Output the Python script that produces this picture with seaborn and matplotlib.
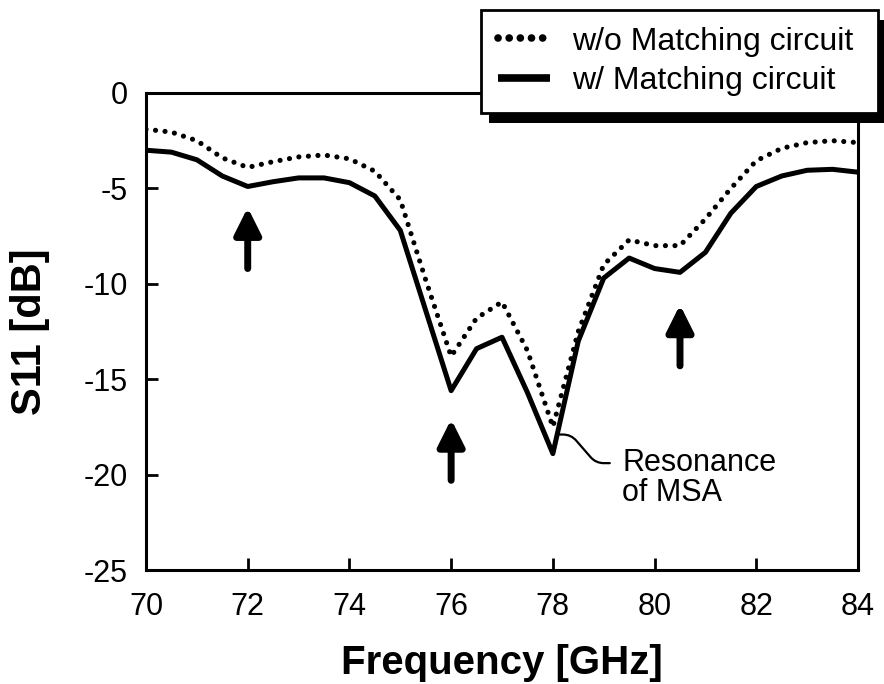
import matplotlib
matplotlib.use('Agg')
import matplotlib.pyplot as plt
import matplotlib.patches as mpatches
import seaborn as sns
import pandas as pd

# S11 readings every 0.5 GHz
freq = [70.0, 70.5, 71.0, 71.5, 72.0, 72.5, 73.0, 73.5, 74.0, 74.5,
        75.0, 75.5, 76.0, 76.5, 77.0, 77.5, 78.0, 78.5, 79.0, 79.5,
        80.0, 80.5, 81.0, 81.5, 82.0, 82.5, 83.0, 83.5, 84.0]
s11_without = [-1.9, -2.05, -2.5, -3.4, -3.9, -3.6, -3.35, -3.25, -3.45, -4.1,
               -5.6, -9.8, -13.8, -11.8, -10.95, -13.5, -17.5, -12.5, -9.0, -7.7,
               -8.0, -8.0, -6.6, -5.0, -3.55, -2.9, -2.6, -2.5, -2.6]
s11_with = [-3.0, -3.1, -3.5, -4.35, -4.9, -4.65, -4.45, -4.45, -4.7, -5.4,
            -7.2, -11.4, -15.6, -13.4, -12.8, -15.7, -18.9, -13.0, -9.7, -8.65,
            -9.2, -9.4, -8.35, -6.3, -4.9, -4.35, -4.05, -4.0, -4.15]
labels = ['w/o Matching circuit', 'w/ Matching circuit']

# arrows marking the matching dips
arrow_x = [72.0, 76.0, 80.5]
arrow_tip = [-6.0, -17.1, -11.1]
arrow_tail = [-9.2, -20.3, -14.3]

xticks = [70, 72, 74, 76, 78, 80, 82, 84]
yticks = [0, -5, -10, -15, -20, -25]

sns.set_style('ticks')
plt.rcParams['font.family'] = ['Liberation Sans', 'DejaVu Sans']
plt.rcParams['axes.unicode_minus'] = False
plt.rcParams['text.color'] = 'black'
plt.rcParams['axes.labelcolor'] = 'black'
plt.rcParams['xtick.color'] = 'black'
plt.rcParams['ytick.color'] = 'black'

df = pd.DataFrame({'freq': freq, 'without': s11_without, 'with': s11_with})

fig, ax = plt.subplots(figsize=(8.84, 6.84), dpi=100)
fig.subplots_adjust(left=146/884, right=858/884, top=1-93/684, bottom=1-570/684)

sns.lineplot(data=df, x='freq', y='without', ax=ax, color='black', lw=3.7,
             linestyle=(0, (0.01, 1.85)), dash_capstyle='round', label=labels[0])
sns.lineplot(data=df, x='freq', y='with', ax=ax, color='black', lw=3.6,
             solid_capstyle='butt', label=labels[1])

ax.set_xlim(70, 84)
ax.set_ylim(-25, 0)
ax.set_xticks(xticks)
ax.set_yticks(yticks)
ax.tick_params(direction='in', length=8.5, width=2, labelsize=22, color='black')
ax.tick_params(axis='x', pad=16)
ax.tick_params(axis='y', pad=13)
for sp in ax.spines.values():
    sp.set_linewidth(2.2)
    sp.set_color('black')
ax.set_xlabel('Frequency [GHz]', fontsize=29, fontweight='bold', labelpad=16)
ax.set_ylabel('S11 [dB]', fontsize=30, fontweight='bold', labelpad=24)

for x, tip, tail in zip(arrow_x, arrow_tip, arrow_tail):
    ax.annotate('', xy=(x, tip), xytext=(x, tail),
                arrowprops=dict(arrowstyle='-|>,head_length=1.6,head_width=0.8',
                                lw=5, color='black', capstyle='round',
                                shrinkA=0, shrinkB=0, mutation_scale=10))

ax.annotate('', xy=(78.12, -17.9), xytext=(79.12, -19.4),
            arrowprops=dict(arrowstyle='-', lw=1.6, color='black',
                            connectionstyle='arc,angleA=180,angleB=0,armA=14,armB=12,rad=8',
                            shrinkA=0, shrinkB=0))
ax.text(79.36, -20.2, 'Resonance\nof MSA', fontsize=22, ha='left', va='center',
        linespacing=1.0)

handles, labs = ax.get_legend_handles_labels()
ax.get_legend().remove()
leg = fig.legend(handles, labs, loc='upper left',
                 bbox_to_anchor=(481/884, 1-108/684, 397/884, 98/684), mode='expand',
                 borderaxespad=0, fontsize=23, frameon=True, fancybox=False,
                 framealpha=1, edgecolor='black', handlelength=1.65,
                 handletextpad=0.68, borderpad=0.52, labelspacing=0.3)
leg.get_frame().set_linewidth(2)
for h in leg.get_lines():
    h.set_linewidth(5.5)
leg.get_lines()[0].set_linestyle((0, (0.01, 1.45)))
leg.set_zorder(10)

# hard black drop shadow behind the legend box
fig.canvas.draw()
bb = leg.get_window_extent().transformed(fig.transFigure.inverted())
shadow = mpatches.Rectangle((bb.x0 + 8/884, bb.y0 - 10/684), bb.width, bb.height,
                            transform=fig.transFigure, facecolor='black',
                            edgecolor='none', zorder=9)
fig.add_artist(shadow)

fig.savefig('out.png', dpi=100)
